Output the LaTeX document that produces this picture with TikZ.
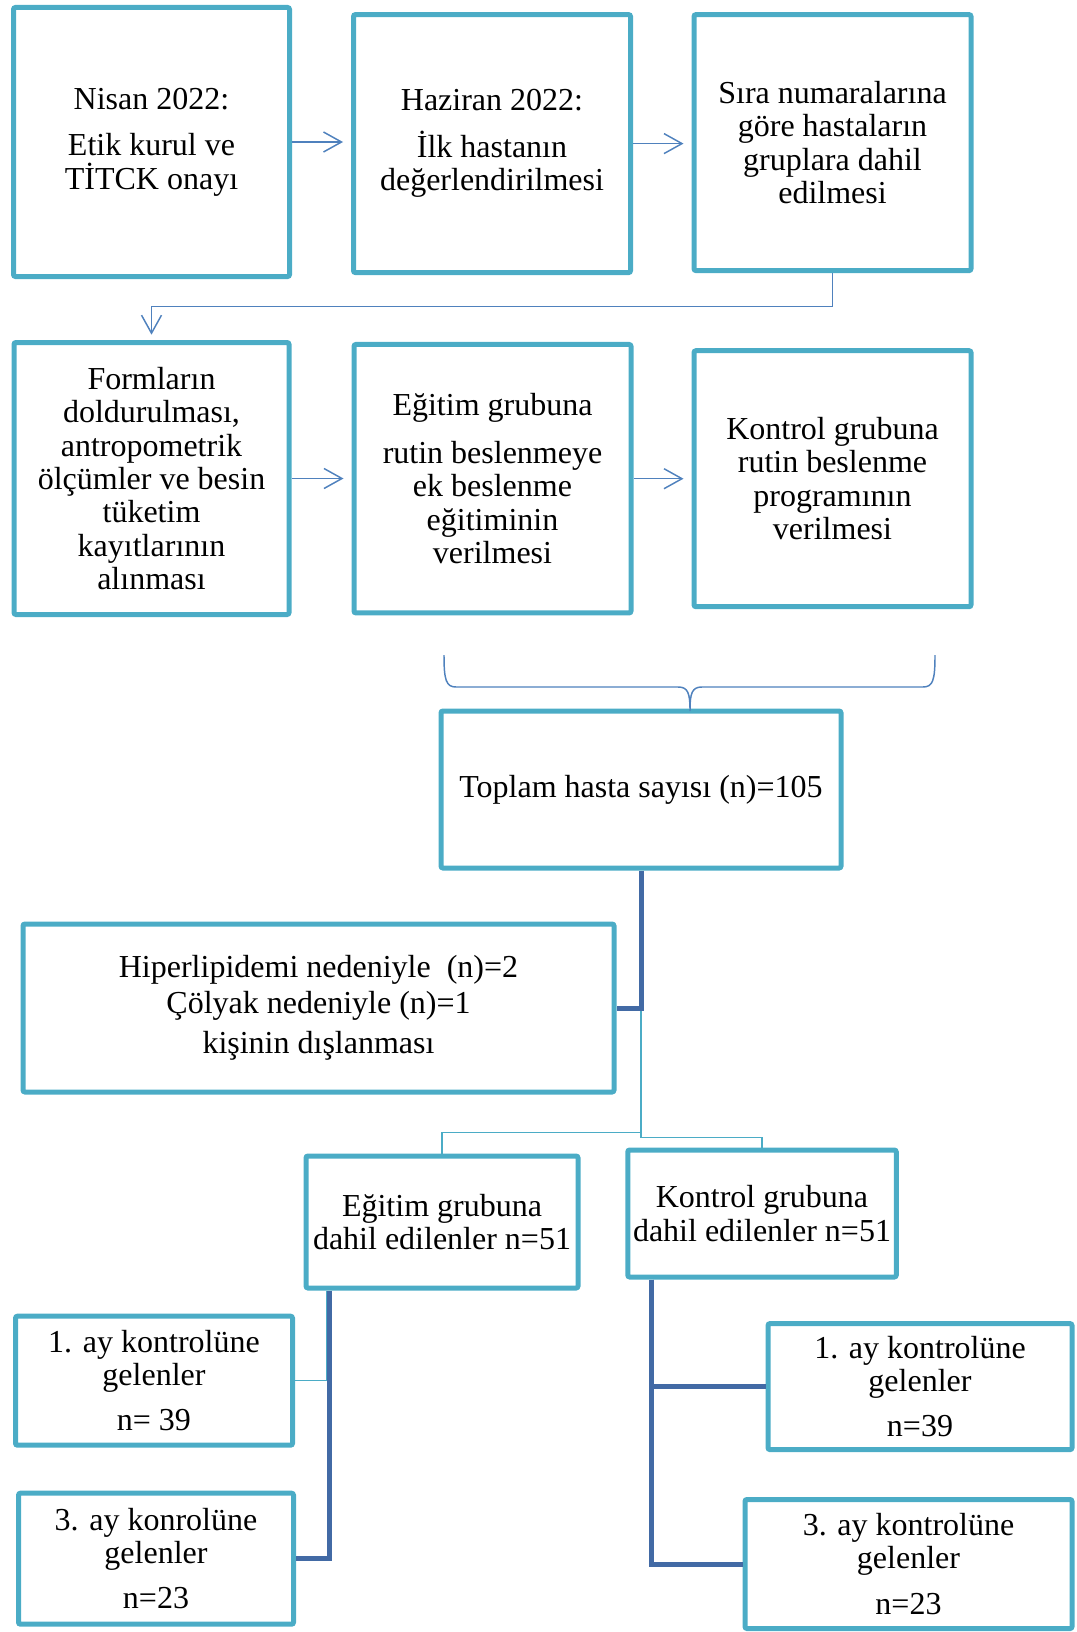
\documentclass[tikz,border=0pt]{standalone}
\usepackage{fontspec}
\setmainfont{Liberation Serif}
\usetikzlibrary{arrows.meta}
\definecolor{boxcyan}{RGB}{75,172,198}
\definecolor{arrowblue}{RGB}{79,129,189}
\definecolor{linkdark}{RGB}{66,106,165}
\begin{document}
\begin{tikzpicture}[x=0.75bp, y=-0.75bp,
  flowbox/.style={draw=boxcyan, line width=3.75bp, rounded corners=1.5bp, align=center, inner sep=0pt,
    font=\fontsize{24bp}{25bp}\selectfont},
  flowarrow/.style={draw=arrowblue, line width=1.1bp, -{Straight Barb[length=13.5bp,width=15bp]}, shorten >=6bp},
  thinlink/.style={draw=boxcyan, line width=1.1bp},
  thicklink/.style={draw=linkdark, line width=3.75bp}]
% one unit is one pixel of the 1077x1632 page
\def\pxsz{0.75bp}
\useasboundingbox (0,0) rectangle (1077,1632);
% Top row
\node[flowbox, minimum width=276*\pxsz, minimum height=269*\pxsz] (nisan) at (151.5,142) {Nisan 2022:\\[10bp]Etik kurul ve\\TİTCK onayı};
\node[flowbox, minimum width=277*\pxsz, minimum height=258*\pxsz] (haziran) at (492,143.6) {Haziran 2022:\\[10bp]İlk hastanın\\değerlendirilmesi};
\node[flowbox, minimum width=277*\pxsz, minimum height=256*\pxsz] (sira) at (832.5,142.6) {Sıra numaralarına\\göre hastaların\\gruplara dahil\\edilmesi};
% Second row
\node[flowbox, minimum width=275*\pxsz, minimum height=272*\pxsz] (form) at (151.5,478.5) {Formların\\doldurulması,\\antropometrik\\ölçümler ve besin\\tüketim\\kayıtlarının\\alınması};
\node[flowbox, minimum width=277*\pxsz, minimum height=268.5*\pxsz] (egitim) at (492.5,478.7) {Eğitim grubuna\\[11bp]rutin beslenmeye\\ek beslenme\\eğitiminin\\verilmesi};
\node[flowbox, minimum width=277*\pxsz, minimum height=256*\pxsz] (kontrol) at (832.5,478.7) {Kontrol grubuna\\rutin beslenme\\programının\\verilmesi};
% Totals and exclusions
\node[flowbox, minimum width=400*\pxsz, minimum height=157*\pxsz] (toplam) at (641,789.5) {Toplam hasta sayısı (n)=105};
\node[flowbox, minimum width=591*\pxsz, minimum height=168*\pxsz] (dislama) at (318.5,1008) {Hiperlipidemi nedeniyle\ \ (n)=2\\[2bp]Çölyak nedeniyle (n)=1\\[5bp]kişinin dışlanması};
% Groups
\node[flowbox, minimum width=272*\pxsz, minimum height=132*\pxsz] (egtgrp) at (442,1222) {Eğitim grubuna\\dahil edilenler n=51};
\node[flowbox, minimum width=268.5*\pxsz, minimum height=127*\pxsz] (kntgrp) at (762,1213.5) {Kontrol grubuna\\dahil edilenler n=51};
% Follow-up visits
\node[flowbox, minimum width=277*\pxsz, minimum height=129*\pxsz] (egtay1) at (154,1380.7) {1. ay kontrolüne\\gelenler\\[9bp]n= 39};
\node[flowbox, minimum width=275*\pxsz, minimum height=131*\pxsz] (egtay3) at (156,1558.7) {3. ay konrolüne\\gelenler\\[9bp]n=23};
\node[flowbox, minimum width=304*\pxsz, minimum height=126*\pxsz] (kntay1) at (920,1386.6) {1. ay kontrolüne\\gelenler\\[9bp]n=39};
\node[flowbox, minimum width=327*\pxsz, minimum height=129*\pxsz] (kntay3) at (908.5,1564) {3. ay kontrolüne\\gelenler\\[9bp]n=23};
% Arrows
\draw[flowarrow] (nisan.east) -- (nisan.east -| haziran.west);
\draw[flowarrow] (haziran.east) -- (haziran.east -| sira.west);
\draw[flowarrow, shorten >=4bp] (sira.south) -- ++(0,33.4) -| (form.north);
\draw[flowarrow] (form.east) -- (form.east -| egitim.west);
\draw[flowarrow] (egitim.east) -- (egitim.east -| kontrol.west);
% Brace
\coordinate (bl) at (444,655);
\coordinate (br) at (935,655);
\coordinate (btip) at (690,711);
\draw[arrowblue, line width=1.1bp] (bl) .. controls (444,680) and (446,687) .. (456,687) -- (678,687)
  .. controls (688,687) and (690,693) .. (btip) .. controls (690,693) and (692,687) .. (702,687)
  -- (923,687) .. controls (933,687) and (935,680) .. (br);
% Split links
\path (toplam.south) ++(0,262) coordinate (fork);
\draw[thinlink] (toplam.south) -- (fork) -| (egtgrp.north);
\draw[thinlink] (fork) -- ++(0,5) -| (kntgrp.north);
\draw[thicklink] (toplam.south) |- (dislama.east);
\draw[thicklink] ([xshift=26*\pxsz]egtgrp.south west) |- (egtay3.east);
\draw[thinlink] ([xshift=23*\pxsz]egtgrp.south west) |- (egtay1.east);
\draw[thicklink] ([xshift=26.5*\pxsz]kntgrp.south west) |- (kntay1.west);
\draw[thicklink] ([xshift=26.5*\pxsz]kntgrp.south west) |- (kntay3.west);
\end{tikzpicture}
\end{document}
